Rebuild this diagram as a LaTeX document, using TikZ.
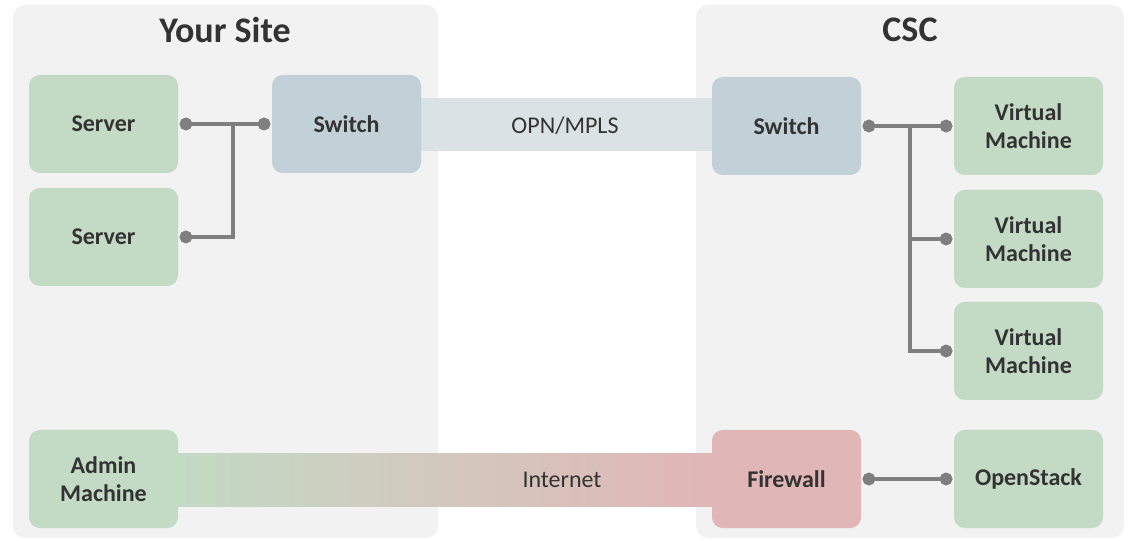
\documentclass[tikz,border=0pt]{standalone}
\usepackage{fontspec}
\setmainfont{Carlito}
\usetikzlibrary{arrows.meta}
\definecolor{panelgray}{HTML}{F2F2F2}
\definecolor{hostgreen}{HTML}{C3DAC5}
\definecolor{switchblue}{HTML}{C2D0D7}
\definecolor{firewallred}{HTML}{E1B6B7}
\definecolor{opnband}{HTML}{DAE2E5}
\definecolor{wiregray}{HTML}{7F7F7F}
\definecolor{textgray}{HTML}{333333}
\tikzset{
	panel/.style={fill=panelgray, rounded corners=9pt},
	box/.style={rounded corners=8pt, minimum width=111.75pt, minimum height=73.5pt,
		align=center, font=\fontsize{18}{21}\selectfont\bfseries, text=textgray},
	host/.style={box, fill=hostgreen},
	switchbox/.style={box, fill=switchblue},
	firewallbox/.style={box, fill=firewallred},
	title/.style={font=\fontsize{27}{30}\selectfont\bfseries, text=textgray},
	bandlabel/.style={font=\fontsize{18}{21}\selectfont, text=textgray},
	wire/.style={draw=wiregray, line width=3.5pt},
	dotted ends/.style={{Circle[length=9.5pt]}-{Circle[length=9.5pt]}},
	dot start/.style={{Circle[length=9.5pt]}-}
}
\begin{document}
\begin{tikzpicture}[x=0.75pt, y=-0.75pt]
	\useasboundingbox (0,0) rectangle (1128,541);

	% the two sites
	\fill[panel] (13,5) rectangle (438,538);
	\fill[panel] (696,5) rectangle (1124,538);
	\node[title] (yoursite) at (225,30) {Your Site};
	\node[title] (csc) at (910,30) {CSC};

	% links between the sites
	\fill[opnband] (421,98) rectangle (712,151);
	\shade[left color=hostgreen, right color=firewallred] (178,453) rectangle (712,506);
	\node[bandlabel] (opn) at (565,126) {OPN/MPLS};
	\node[bandlabel] (internet) at (562,480) {Internet};

	% your site
	\node[host] (server1) at (103.5,124) {Server};
	\node[host] (server2) at (103.5,237) {Server};
	\node[switchbox] (switchL) at (346.5,124) {Switch};
	\node[host] (admin) at (103.5,479) {Admin\\Machine};

	% csc
	\node[switchbox] (switchR) at (786.5,126) {Switch};
	\node[host] (vm1) at (1028.5,126) {Virtual\\Machine};
	\node[host] (vm2) at (1028.5,239) {Virtual\\Machine};
	\node[host] (vm3) at (1028.5,351) {Virtual\\Machine};
	\node[firewallbox] (firewall) at (786.5,479) {Firewall};
	\node[host] (openstack) at (1028.5,479) {OpenStack};

	\coordinate (joinL) at (233,124);
	\coordinate (joinR) at (910,126);

	\draw[wire, dotted ends] ([xshift=1pt]server1.east) -- ([xshift=-1pt]switchL.west);
	\draw[wire, dot start] ([xshift=1pt]server2.east) -| (joinL);
	\draw[wire, dotted ends] ([xshift=1pt]switchR.east) -- ([xshift=-1pt]vm1.west);
	\draw[wire, dot start] ([xshift=-1pt]vm2.west) -| (joinR);
	\draw[wire, dot start] ([xshift=-1pt]vm3.west) -| (joinR);
	\draw[wire, dotted ends] ([xshift=1pt]firewall.east) -- ([xshift=-1pt]openstack.west);
\end{tikzpicture}
\end{document}
